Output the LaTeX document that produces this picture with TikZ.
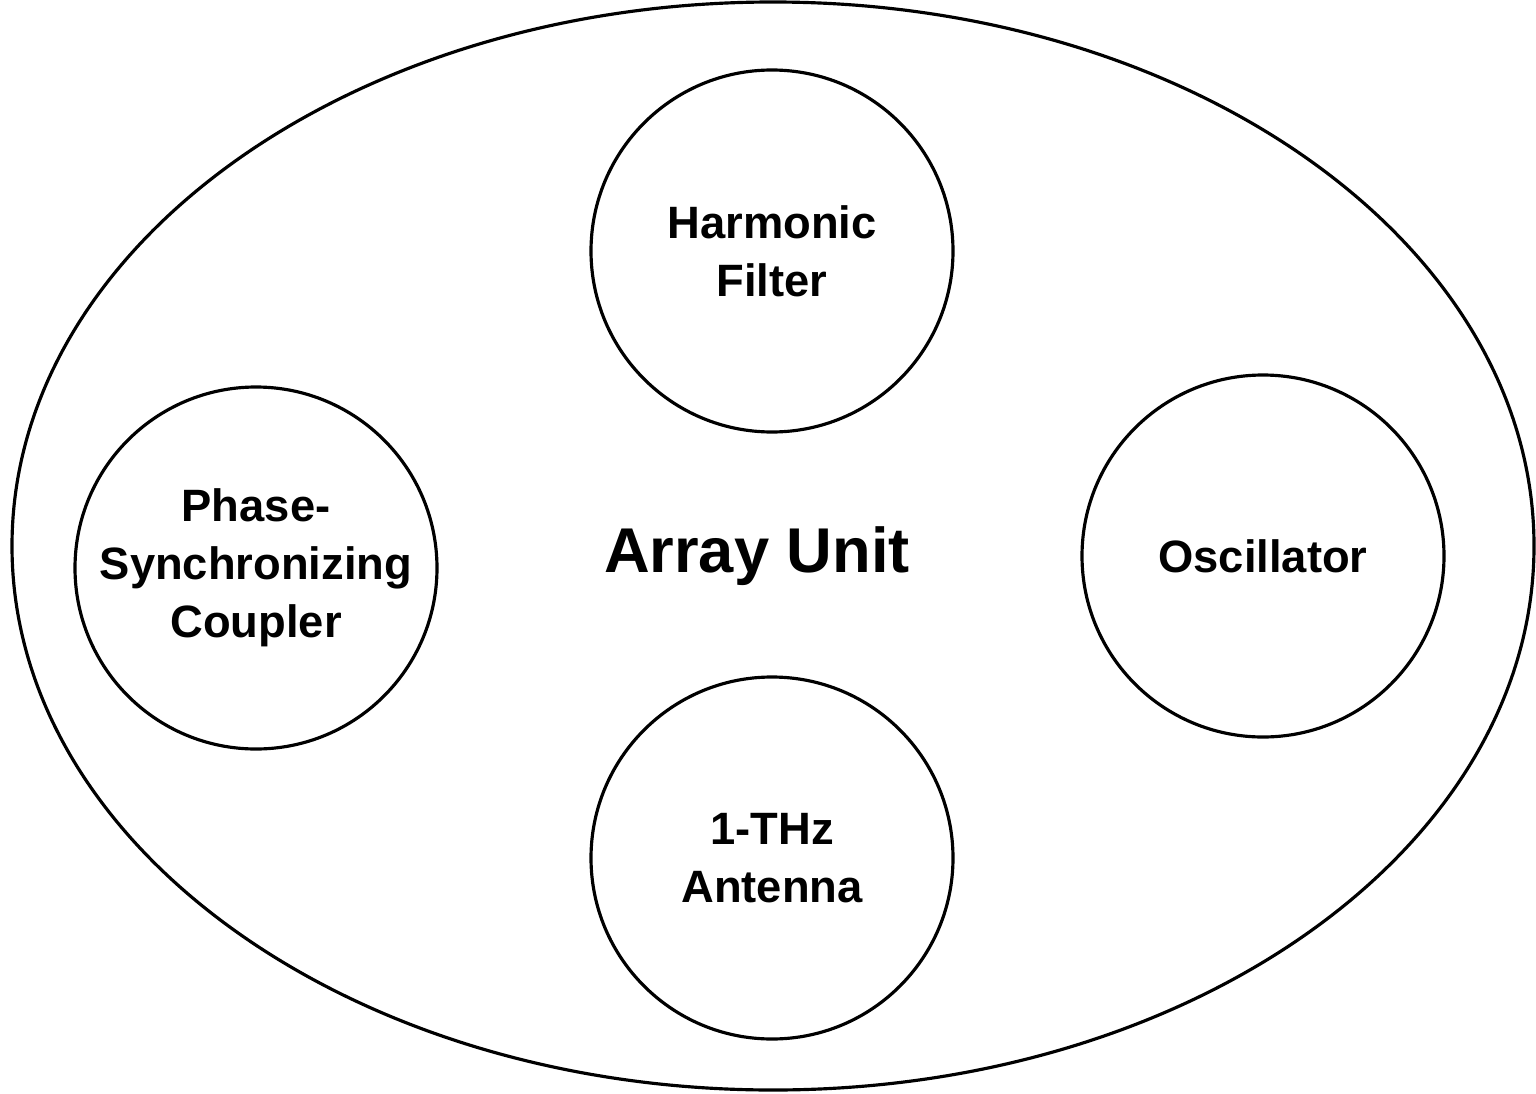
\documentclass[tikz,border=0pt]{standalone}
\usepackage{fontspec}
\setmainfont{Liberation Sans}
\usepackage{tikz}
\usetikzlibrary{positioning,shapes.geometric}

\begin{document}
\begin{tikzpicture}[line width=0.9pt,
  part/.style={draw,circle,minimum size=3.62cm,inner sep=0pt,align=center,
    font=\fontsize{12.9}{16.5}\selectfont\bfseries}]
  \useasboundingbox (0,0) rectangle (15.36,10.93);
  \node[draw,ellipse,minimum width=15.22cm,minimum height=10.88cm,inner sep=0pt] (unit) at (7.73,5.47) {};
  \node[font=\fontsize{18}{22}\selectfont\bfseries] (lbl) at (7.57,5.37) {Array Unit};
  \node[part] (filt) at (7.72,8.42) {Harmonic\\Filter};
  \node[part] (coup) at (2.56,5.25) {Phase-\\Synchronizing\\Coupler};
  \node[part] (osc) at (12.63,5.37) {Oscillator};
  \node[part] (ant) at (7.72,2.35) {1-THz\\Antenna};
\end{tikzpicture}
\end{document}
